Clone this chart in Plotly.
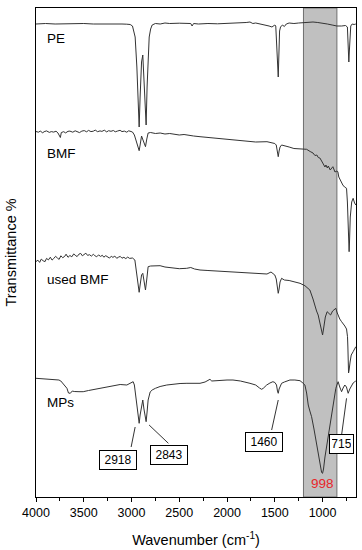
import plotly.graph_objects as go

# ---- data (wavenumber cm-1, offset transmittance a.u.) ----
pe_wn = [4000, 3900, 3800, 3700, 3600, 3500, 3400, 3300, 3200, 3100, 3050, 3014, 2990, 2962, 2944, 2931, 2920,
         2910, 2895, 2882, 2870, 2858, 2847, 2837, 2826, 2815, 2800, 2784, 2750, 2700, 2650, 2600, 2500, 2420,
         2380, 2366, 2350, 2300, 2200, 2100, 2000, 1900, 1800, 1760, 1730, 1700, 1650, 1600, 1560, 1530, 1500,
         1490, 1478, 1470, 1464, 1458, 1450, 1440, 1420, 1400, 1380, 1350, 1300, 1250, 1200, 1150, 1100, 1050,
         1000, 950, 900, 850, 800, 760, 740, 732, 728, 725, 720, 715, 705, 690, 670, 652]
pe_t = [473, 473.5, 473, 473.3, 473, 473.5, 473, 473.2, 473, 473, 472.8, 472.5, 471, 460, 430, 390, 370,
        400, 435, 442, 420, 385, 372, 410, 440, 460, 468, 472, 473.5, 473, 474, 473.5, 473.8, 474,
        473.5, 471, 473.5, 473, 473.5, 473.2, 473.5, 474, 474.5, 475, 473.5, 474, 473, 472.5, 471, 470, 472,
        471, 450, 425, 420, 440, 466, 470, 472, 470.5, 473, 474, 473.5, 474, 474.2, 475, 475, 474.5,
        474, 473, 472, 471, 471, 471.5, 470, 455, 437, 435, 445, 462, 471, 473, 472.5, 473]

bmf_wn = [4000, 3975, 3955, 3930, 3915, 3890, 3860, 3840, 3815, 3790, 3770, 3755, 3745, 3735, 3710, 3690, 3665,
          3645, 3615, 3590, 3570, 3545, 3520, 3495, 3470, 3450, 3425, 3400, 3380, 3355, 3330, 3310, 3285, 3260,
          3240, 3215, 3190, 3170, 3145, 3120, 3100, 3075, 3050, 3030, 3005, 2990, 2970, 2950, 2930,
          2920, 2910, 2895, 2880, 2865, 2854, 2840, 2826, 2800, 2750, 2700, 2650, 2600, 2550, 2500, 2450, 2400,
          2350, 2283, 2200, 2100, 2000, 1900, 1800, 1700, 1582, 1540, 1500, 1485, 1475, 1464, 1455, 1445, 1429,
          1400, 1350, 1300, 1250, 1206, 1167, 1130, 1100, 1080, 1060, 1045, 1028, 1010, 1000, 990, 975, 965,
          950, 940, 920, 892, 870, 850, 840, 830, 815, 801, 788, 770, 749, 740, 732, 725, 722, 718, 710, 695,
          680, 665, 652]
bmf_t = [365.5, 364.8, 365.9, 364.2, 365.3, 366.1, 364.6, 365.4, 364.9, 365.8, 364, 361.5, 359.5, 364.5, 365.3, 364.1, 365.7,
         365.9, 364.8, 366.2, 365.1, 364.4, 365.9, 366.4, 365.2, 366.6, 365.4, 365.8, 366.9, 365.3, 366.1, 365.6, 366.8, 365.1,
         366.3, 365.7, 366.5, 365.2, 366.0, 366.7, 365.4, 365.9, 364.8, 366.2, 365.5, 365, 362, 356, 348,
         346.3, 352, 361, 357, 352, 350.3, 358, 364, 364.5, 363.5, 364, 363, 363.5, 362.5, 362, 362.5, 361.5,
         361, 360.3, 359.5, 358.5, 357.5, 357, 356, 355, 355.3, 354.5, 353.5, 352, 346, 340.3, 346, 350, 352,
         351, 350, 348.5, 348, 347.7, 347.7, 345.5, 344, 341.5, 342, 339.5, 339, 336, 334, 333.5, 330, 332,
         329, 331, 327, 330.3, 325, 326, 325.3, 320, 317, 315.3, 312, 310, 308.7, 295, 270, 252, 245.3, 255, 280, 295,
         298.7, 294, 292]

used_wn = [4000, 3980, 3962, 3945, 3925, 3905, 3890, 3870, 3850, 3832, 3815, 3795, 3775, 3758, 3740, 3720, 3700,
           3685, 3665, 3645, 3625, 3605, 3590, 3570, 3550, 3532, 3515, 3495, 3478, 3460, 3440, 3420, 3400, 3385,
           3365, 3345, 3325, 3305, 3290, 3270, 3250, 3230, 3212, 3195, 3175, 3155, 3135, 3118, 3100, 3080, 3060,
           3040, 3020, 3000,
           2990, 2965, 2950, 2935, 2920, 2910, 2895, 2882, 2870, 2854, 2840, 2826, 2800, 2750, 2701, 2650, 2600,
           2550, 2500, 2422, 2380, 2340, 2283, 2200, 2100, 2000, 1938, 1850, 1760, 1700, 1620, 1582, 1540, 1500,
           1485, 1475, 1464, 1455, 1445, 1429, 1400, 1350, 1300, 1236, 1185, 1133, 1100, 1081, 1063, 1046, 1030,
           1013, 1000, 990, 971, 952, 935, 916, 895, 861, 850, 837, 820, 801, 780, 767, 749, 739, 735, 728, 722,
           712, 700, 680, 665, 652]
used_t = [235.5, 236.8, 234.6, 237.9, 236.2, 235.4, 238.6, 237.1, 239.8, 236.9, 238.4, 240.7, 238.9, 237.6, 241.2, 239.3, 240.6,
          242.8, 239.7, 241.5, 240.2, 243.1, 241.8, 240.4, 242.9, 243.6, 241.2, 242.4, 243.8, 241.6, 242.3, 240.9, 242.7, 241.4,
          240.2, 242.1, 240.6, 241.7, 239.8, 241.3, 240.5, 238.9, 240.8, 239.6, 240.9, 238.7, 239.9, 240.6, 238.8, 239.7, 238.4,
          239.9, 238.6, 239.3,
          239, 237, 225, 212, 204.7, 212, 222, 223.7, 215, 207, 218, 230.3, 231, 231.5, 231.3, 230, 229.5,
          228.5, 228.3, 228.7, 229.5, 228, 227, 226.5, 226, 225.5, 225.3, 224.5, 224, 223.5, 223, 223, 225, 222,
          218, 210, 203.7, 208, 215, 218.7, 217, 216.5, 215.5, 213.7, 211.3, 207, 198, 190.3, 186, 182, 175,
          166, 162, 168, 180, 185.3, 184, 182, 186, 188.7, 185, 181, 178, 175.3, 173, 171, 168, 160.3, 150, 124, 127,
          135, 142, 145.3, 148, 150.3]

mps_wn = [4000, 3950, 3900, 3850, 3800, 3760, 3740, 3700, 3676, 3660, 3641, 3620, 3600, 3550, 3506, 3450, 3400,
          3328, 3250, 3200, 3119, 3049, 3014, 2983, 2970, 2955, 2940, 2920, 2910, 2895, 2882, 2870, 2847, 2837,
          2826, 2805, 2784, 2750, 2701, 2631, 2550, 2492, 2420, 2350, 2283, 2230, 2200, 2179, 2160, 2100, 2000,
          1938, 1860, 1760, 1700, 1660, 1638, 1621, 1585, 1551, 1520, 1499, 1482, 1472, 1464, 1455, 1440, 1429,
          1400, 1342, 1290, 1236, 1206, 1185, 1167, 1150, 1133, 1115, 1090, 1063, 1040, 1020, 1010, 1000, 990,
          975, 952, 935, 924, 910, 896, 880, 861, 850, 837, 820, 801, 785, 767, 750, 732, 715, 697, 680, 663, 652]
mps_t = [118.7, 118.5, 118, 118, 117.5, 117, 116, 112, 108.7, 104, 103.7, 106, 105.5, 105.3, 105.3, 106.5, 107.5,
         108.7, 110, 111, 112.5, 112, 113.5, 115.3, 112, 100, 88, 73.7, 82, 93, 97, 88, 75.3, 85,
         97, 105, 107, 108.7, 110.5, 112, 113, 113.5, 113.7, 114, 113.7, 115, 117, 117.7, 116, 116.5, 117,
         117, 116, 113.7, 112, 109, 107.7, 108.7, 112, 114, 115.3, 114.5, 112, 106, 103.7, 108, 112, 113.7,
         115, 117, 117, 116.3, 114, 112, 104, 92, 86, 80.3, 68, 53.7, 40, 28, 24.5, 23.7, 28,
         40, 53.7, 63, 70.3, 80, 90.3, 100, 108.7, 112, 115.3, 110, 105.3, 109, 112, 110, 103.7, 108, 112, 114, 115.3, 116]

sample_names = ["PE", "BMF", "used BMF", "MPs"]
label_t = [458.5, 344, 218, 94.5]

peak_labels = ["2918", "2843", "1460", "715"]
box_wn = [3137, 2605, 1617, 798]
box_t = [37.5, 42, 54.7, 52.8]
leader_wn0 = [3004, 2816, 1533, 801]
leader_t0 = [50, 72, 67, 62]
leader_wn1 = [2962, 2614, 1464, 749]
leader_t1 = [70, 53.7, 97, 98.7]

band_wn = [1200, 850]
band_label = "998"
band_label_wn = 1002
band_label_t = 13.7

xticks = [4000, 3500, 3000, 2500, 2000, 1500, 1000]

FONT = "Liberation Sans, Arial, sans-serif"
LINE = "#333333"

fig = go.Figure()
for wn, t, name in [(pe_wn, pe_t, "PE"), (bmf_wn, bmf_t, "BMF"), (used_wn, used_t, "used BMF"), (mps_wn, mps_t, "MPs")]:
    fig.add_trace(go.Scatter(x=wn, y=t, mode="lines", name=name,
                             line=dict(color=LINE, width=1), showlegend=False, hoverinfo="skip"))

fig.add_shape(type="rect", xref="x", yref="paper", x0=band_wn[0], x1=band_wn[1], y0=0, y1=1,
              fillcolor="#c0c0c0", line=dict(color="#6e6e6e", width=1), layer="below")

for name, t in zip(sample_names, label_t):
    fig.add_annotation(x=3910, y=t, text=name, showarrow=False, xanchor="left", yanchor="middle",
                       font=dict(family=FONT, size=13.5, color="black"))

for lab, bx, by, x0, y0, x1, y1 in zip(peak_labels, box_wn, box_t, leader_wn0, leader_t0, leader_wn1, leader_t1):
    fig.add_shape(type="line", xref="x", yref="y", x0=x0, y0=y0, x1=x1, y1=y1,
                  line=dict(color="#333333", width=1))
    fig.add_annotation(x=bx, y=by, text=lab, showarrow=False, xanchor="center", yanchor="middle",
                       font=dict(family=FONT, size=12, color="black"),
                       bordercolor="black", borderwidth=1, borderpad=2, bgcolor="white",
                       width=32 if len(lab) == 4 else 19, height=14)

fig.add_annotation(x=band_label_wn, y=band_label_t, text=band_label, showarrow=False,
                   font=dict(family=FONT, size=13.5, color="#e8262a"))

fig.update_layout(
    width=362, height=550,
    margin=dict(l=36, r=6, t=8, b=53),
    paper_bgcolor="white", plot_bgcolor="white",
    font=dict(family=FONT, color="black"),
    xaxis=dict(range=[4000, 650], tickvals=xticks, ticks="outside", ticklen=4, tickwidth=1,
               tickcolor="black", showgrid=False, zeroline=False, automargin=False,
               showline=True, linecolor="black", linewidth=1.3, mirror=True,
               tickfont=dict(family=FONT, size=12.5, color="black"),
               minor=dict(dtick=250, ticks="outside", ticklen=2.5, tickcolor="black", tickwidth=1),
               title=dict(text="Wavenumber (cm<sup>-1</sup>)", font=dict(family=FONT, size=14.5), standoff=15)),
    yaxis=dict(range=[0, 489], showticklabels=False, ticks="", showgrid=False, zeroline=False,
               automargin=False,
               showline=True, linecolor="black", linewidth=1.3, mirror=True,
               title=dict(text="Transmittance %", font=dict(family=FONT, size=14.5), standoff=14)),
)

# remove the browser's default 8px page margin so the figure sits at the window origin
fig.write_html("out.html", config={"displayModeBar": False},
               post_script="document.body.style.margin='0';document.body.style.overflow='hidden';")
